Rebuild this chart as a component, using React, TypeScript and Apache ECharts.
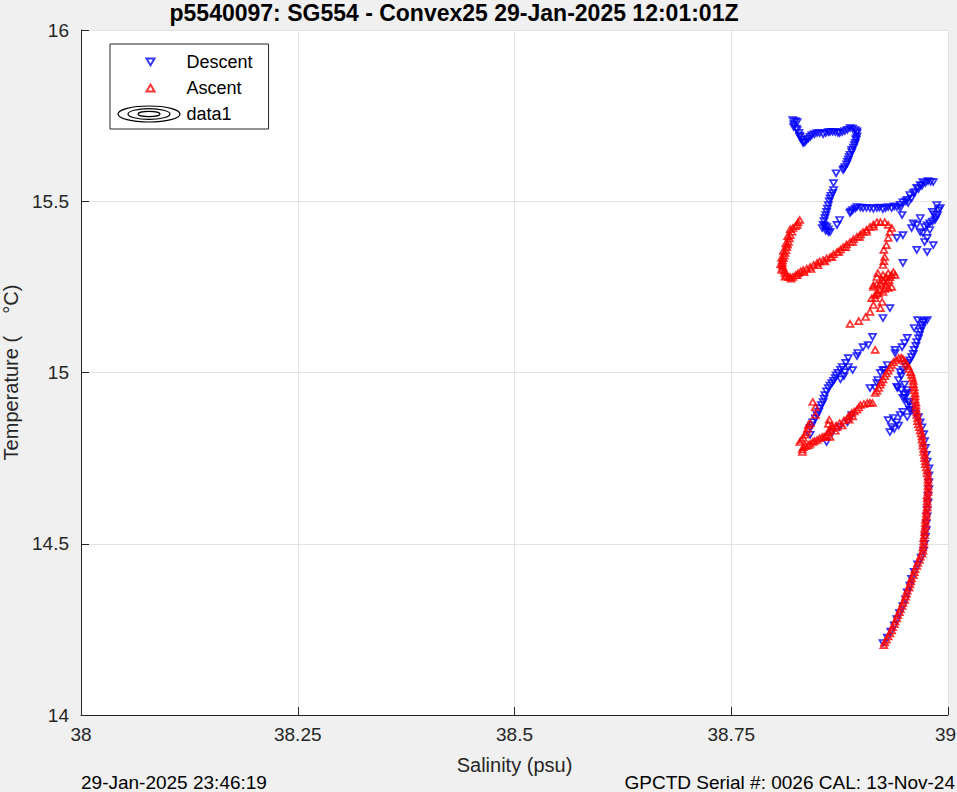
import React, { useEffect, useRef } from "react";
import * as echarts from "echarts";

// ---------- DATA (salinity psu, temperature °C) ----------
const xTicks = [38, 38.25, 38.5, 38.75, 39];
const yTicks = [14, 14.5, 15, 15.5, 16];

const descentSurface: number[][] = [
  [38.821,15.737],[38.824,15.734],[38.826,15.731],[38.822,15.725],[38.822,15.717],[38.825,15.712],[38.826,15.708],[38.828,15.700],
  [38.829,15.692],[38.829,15.688],[38.831,15.681],[38.833,15.674],[38.833,15.670],[38.835,15.672],[38.837,15.679],[38.839,15.683],
  [38.841,15.688],[38.843,15.693],[38.846,15.696],[38.849,15.699],[38.852,15.699],[38.856,15.696],[38.859,15.699],[38.862,15.702],
  [38.864,15.702],[38.867,15.703],[38.870,15.702],[38.873,15.700],[38.875,15.699],[38.878,15.702],[38.881,15.705],[38.884,15.709],
  [38.887,15.714],[38.890,15.712],[38.893,15.708],[38.895,15.704],[38.895,15.699],[38.895,15.690],[38.894,15.684],[38.894,15.679],
  [38.893,15.671],[38.892,15.664],[38.891,15.657],[38.889,15.650],[38.889,15.644],[38.887,15.636],[38.886,15.629],[38.885,15.622],
  [38.884,15.615],[38.883,15.608],[38.881,15.600],[38.880,15.595],[38.879,15.591],
  [38.871,15.582],[38.868,15.553],[38.868,15.533],
];

const descentUpper: number[][] = [
  [38.867,15.524],[38.865,15.516],[38.864,15.509],[38.863,15.500],[38.862,15.489],[38.861,15.479],[38.860,15.469],[38.859,15.460],
  [38.858,15.451],[38.857,15.442],[38.856,15.431],[38.855,15.422],[38.858,15.428],[38.860,15.425],[38.862,15.418],[38.862,15.410],
  [38.859,15.414],[38.875,15.445],[38.872,15.431],[38.864,15.410],
  [38.887,15.466],[38.888,15.470],[38.890,15.474],[38.893,15.479],[38.895,15.483],[38.899,15.482],[38.902,15.480],[38.906,15.481],
  [38.910,15.480],[38.914,15.478],[38.918,15.480],[38.921,15.482],[38.925,15.477],[38.928,15.480],[38.931,15.483],[38.935,15.480],
  [38.938,15.485],[38.941,15.483],[38.945,15.490],[38.948,15.497],[38.951,15.500],[38.953,15.504],[38.954,15.495],[38.956,15.518],
  [38.958,15.509],[38.960,15.524],[38.962,15.527],[38.964,15.539],[38.966,15.536],[38.968,15.547],[38.970,15.545],[38.971,15.556],
  [38.974,15.553],[38.977,15.559],[38.980,15.557],[38.983,15.556],
  [38.987,15.489],[38.991,15.480],[38.989,15.474],[38.988,15.460],[38.985,15.445],[38.982,15.469],[38.982,15.441],[38.979,15.436],
  [38.976,15.430],[38.973,15.425],[38.971,15.407],[38.976,15.393],[38.973,15.381],[38.983,15.372],[38.964,15.358],[38.976,15.352],
  [38.979,15.416],[38.968,15.410],[38.958,15.422],[38.960,15.436],[38.945,15.480],[38.947,15.460],[38.948,15.401],[38.941,15.393],
  [38.948,15.320],[38.968,15.451],[38.964,15.431],[38.984,15.462],[38.986,15.452],
];

const descentMiddle: number[][] = [
  [38.933,15.188],[38.925,15.159],[38.913,15.104],[38.908,15.080],[38.902,15.074],[38.896,15.057],[38.895,15.048],[38.885,15.042],
  [38.890,15.007],[38.882,15.028],
  [38.976,15.153],[38.973,15.150],[38.971,15.147],[38.965,15.153],[38.970,15.138],[38.970,15.130],[38.968,15.120],[38.967,15.110],
  [38.966,15.100],[38.964,15.089],[38.963,15.078],[38.961,15.066],[38.960,15.055],[38.958,15.045],[38.956,15.036],[38.954,15.028],
  [38.951,15.018],[38.948,15.008],[38.961,15.130],[38.953,15.101],[38.950,15.086],[38.947,15.074],[38.939,15.066],[38.939,15.057],
  [38.930,15.022],[38.925,15.007],[38.922,14.999],
  [38.945,15.001],[38.943,14.978],[38.942,14.955],[38.953,14.949],[38.948,14.926],[38.953,14.905],[38.956,14.891],[38.958,14.899],
  [38.948,14.885],[38.945,14.876],[38.941,14.855],[38.935,14.841],[38.933,14.826],[38.931,14.861],[38.937,14.867],[38.916,14.955],
  [38.910,14.955],[38.918,14.969],[38.919,14.978],[38.927,15.007],[38.953,14.870],[38.946,14.990],[38.950,14.965],[38.950,14.935],
  [38.955,14.915],[38.943,14.845],[38.938,14.835],[38.941,14.958],[38.946,14.949],[38.953,14.940],[38.950,14.926],[38.955,14.911],
];

const descentLower: number[][] = [
  [38.878,15.016],[38.876,15.008],[38.873,14.999],[38.871,14.992],[38.870,14.984],[38.868,14.976],[38.866,14.969],[38.864,14.962],
  [38.862,14.955],[38.860,14.945],[38.858,14.934],[38.857,14.924],[38.856,14.914],[38.854,14.905],[38.852,14.896],[38.851,14.886],
  [38.849,14.876],[38.847,14.866],[38.844,14.855],[38.843,14.846],[38.841,14.838],[38.841,14.818],[38.885,15.016],[38.881,15.001],
  [38.860,14.797],[38.866,14.823],[38.875,14.841],[38.884,14.855],[38.889,14.876],[38.880,14.990],[38.876,14.980],
];

const descentDeep: number[][] = [
  [38.925,14.210],[38.930,14.226],[38.934,14.244],[38.938,14.262],[38.941,14.280],[38.944,14.298],[38.948,14.318],[38.951,14.338],
  [38.953,14.358],[38.956,14.378],[38.958,14.398],[38.961,14.418],[38.965,14.440],[38.969,14.460],[38.972,14.480],[38.973,14.500],
  [38.974,14.520],[38.975,14.540],[38.975,14.560],[38.976,14.580],[38.976,14.600],[38.977,14.620],[38.977,14.640],[38.978,14.660],
  [38.978,14.680],[38.978,14.700],[38.978,14.720],[38.976,14.740],[38.975,14.760],[38.974,14.780],[38.973,14.800],[38.972,14.820],
  [38.970,14.840],[38.968,14.855],[38.966,14.870],[38.962,14.880],[38.958,14.890],
];

const ascentDeep: number[][] = [
  [38.926,14.204],[38.927,14.212],[38.929,14.220],[38.931,14.229],[38.933,14.238],[38.935,14.247],[38.936,14.256],[38.938,14.265],
  [38.939,14.273],[38.941,14.282],[38.942,14.291],[38.944,14.300],[38.945,14.309],[38.947,14.318],[38.948,14.327],[38.950,14.336],
  [38.951,14.345],[38.952,14.354],[38.953,14.363],[38.955,14.372],[38.956,14.381],[38.957,14.390],[38.958,14.399],[38.960,14.408],
  [38.961,14.417],[38.962,14.426],[38.964,14.435],[38.965,14.444],[38.967,14.453],[38.968,14.462],[38.970,14.471],[38.971,14.480],
  [38.971,14.489],[38.972,14.498],[38.972,14.507],[38.972,14.516],[38.973,14.525],[38.973,14.534],[38.973,14.543],[38.974,14.552],
  [38.974,14.561],[38.974,14.570],[38.975,14.579],[38.975,14.588],[38.975,14.597],[38.976,14.606],[38.976,14.615],[38.976,14.624],
  [38.976,14.633],[38.976,14.642],[38.977,14.651],[38.977,14.660],[38.977,14.669],[38.977,14.678],[38.977,14.687],[38.977,14.696],
  [38.976,14.705],[38.976,14.714],[38.975,14.723],[38.974,14.732],[38.974,14.741],[38.973,14.750],[38.973,14.759],[38.972,14.768],
  [38.972,14.777],[38.971,14.786],[38.971,14.795],[38.970,14.804],[38.970,14.813],[38.969,14.822],[38.968,14.831],[38.967,14.840],
  [38.966,14.849],[38.965,14.858],[38.965,14.867],[38.964,14.876],[38.964,14.885],[38.963,14.894],[38.963,14.903],[38.963,14.912],
  [38.962,14.921],[38.962,14.930],[38.962,14.939],[38.961,14.948],[38.961,14.957],[38.960,14.966],[38.960,14.975],[38.959,14.984],
  [38.958,14.993],[38.957,15.001],[38.955,15.010],[38.954,15.018],[38.952,15.026],[38.950,15.033],[38.948,15.040],[38.946,15.043],
  [38.943,15.042],[38.940,15.036],[38.937,15.030],[38.935,15.022],[38.933,15.014],[38.931,15.005],[38.929,14.997],[38.927,14.989],
  [38.925,14.980],[38.923,14.972],[38.922,14.964],[38.920,14.955],[38.918,14.946],[38.916,14.940],
];

const ascentLower: number[][] = [
  [38.913,14.911],[38.910,14.912],[38.907,14.911],[38.903,14.908],[38.899,14.905],[38.897,14.898],[38.895,14.891],[38.892,14.886],
  [38.889,14.882],[38.886,14.874],[38.884,14.867],[38.880,14.860],[38.875,14.852],[38.871,14.845],[38.867,14.838],[38.864,14.832],
  [38.862,14.826],[38.860,14.819],[38.860,14.812],[38.857,14.812],[38.855,14.812],[38.852,14.808],[38.849,14.803],[38.846,14.800],
  [38.844,14.797],[38.841,14.792],[38.839,14.788],[38.836,14.785],[38.833,14.782],[38.832,14.775],[38.832,14.768],[38.829,14.797],
  [38.831,14.803],[38.833,14.809],[38.835,14.818],[38.837,14.826],[38.838,14.836],[38.839,14.847],[38.841,14.852],[38.847,14.876],
  [38.844,14.914],[38.847,14.899],[38.872,14.841],[38.864,14.812],[38.862,14.850],[38.863,14.862],[38.866,14.845],[38.870,14.830],
  [38.878,14.845],[38.886,14.862],[38.890,14.872],
];

const ascentMiddle: number[][] = [
  [38.916,15.066],[38.887,15.142],[38.897,15.150],[38.905,15.162],[38.910,15.177],[38.922,15.188],[38.914,15.197],[38.924,15.206],
  [38.916,15.217],[38.912,15.217],[38.916,15.226],[38.920,15.230],[38.918,15.232],[38.925,15.235],[38.921,15.240],[38.927,15.244],
  [38.931,15.247],[38.935,15.250],[38.914,15.250],[38.914,15.255],[38.928,15.255],[38.918,15.258],[38.922,15.261],[38.930,15.264],
  [38.926,15.267],[38.924,15.270],[38.932,15.270],[38.929,15.278],[38.918,15.279],[38.933,15.278],[38.925,15.285],[38.935,15.285],
  [38.939,15.285],[38.931,15.290],[38.919,15.290],[38.937,15.293],[38.925,15.314],[38.926,15.325],[38.927,15.337],[38.926,15.358],
  [38.929,15.372],[38.931,15.393],[38.933,15.410],[38.935,15.422],[38.931,15.431],[38.927,15.439],[38.922,15.439],
];

const ascentSurface: number[][] = [
  [38.918,15.439],[38.914,15.432],[38.910,15.425],[38.906,15.417],[38.902,15.410],[38.899,15.403],[38.895,15.396],[38.891,15.389],
  [38.887,15.381],[38.883,15.374],[38.879,15.366],[38.876,15.359],[38.872,15.352],[38.868,15.345],[38.864,15.337],[38.860,15.333],
  [38.856,15.328],[38.852,15.324],[38.849,15.320],[38.845,15.314],[38.841,15.308],[38.837,15.303],[38.833,15.299],[38.830,15.295],
  [38.827,15.290],[38.824,15.284],[38.821,15.279],[38.818,15.279],[38.816,15.279],[38.814,15.284],[38.812,15.290],[38.811,15.297],
  [38.810,15.305],[38.809,15.312],[38.809,15.320],[38.809,15.327],[38.810,15.334],[38.811,15.341],[38.812,15.349],[38.813,15.357],
  [38.814,15.366],[38.815,15.373],[38.816,15.381],[38.817,15.391],[38.818,15.401],[38.820,15.411],[38.821,15.422],[38.824,15.427],
  [38.826,15.431],[38.827,15.439],[38.829,15.445],
  [38.914,15.426],[38.906,15.411],[38.898,15.396],[38.890,15.381],[38.882,15.366],[38.874,15.352],[38.866,15.337],[38.858,15.324],
  [38.850,15.313],[38.842,15.302],[38.834,15.293],[38.826,15.284],[38.819,15.274],[38.812,15.280],[38.808,15.300],[38.807,15.316],
  [38.808,15.335],[38.810,15.355],[38.813,15.377],[38.815,15.398],[38.818,15.418],
];

const TITLE = "p5540097: SG554 - Convex25 29-Jan-2025 12:01:01Z";
const X_NAME = "Salinity (psu)";
const Y_NAME = "Temperature (    °C)";
const FOOT_LEFT = "29-Jan-2025 23:46:19";
const FOOT_RIGHT = "GPCTD Serial #: 0026 CAL: 13-Nov-24";

const FONT = '"Liberation Sans", Arial, Helvetica, sans-serif';
const AXIS_COLOR = "#262626";
const DOWN_TRI = "path://M0,0L10,0L5,8.5Z";
const UP_TRI = "path://M5,0L10,8.5L0,8.5Z";

export default function App() {
  const ref = useRef<HTMLDivElement>(null);
  useEffect(() => {
    if (!ref.current) return;
    const chart = echarts.init(ref.current, undefined, { renderer: "svg" });
    const descent = [...descentSurface, ...descentUpper, ...descentMiddle, ...descentLower, ...descentDeep];
    const ascent = [...ascentDeep, ...ascentLower, ...ascentMiddle, ...ascentSurface];
    const xMax = xTicks[xTicks.length - 1];
    chart.setOption({
      animation: false,
      backgroundColor: "#f0f0f0",
      textStyle: { fontFamily: FONT },
      title: [
        {
          text: TITLE, left: 454, top: 1, textAlign: "center", padding: 0,
          textStyle: { fontFamily: FONT, fontSize: 23, fontWeight: "bold", color: "#000" },
        },
        {
          text: FOOT_LEFT, left: 81, top: 773, padding: 0,
          textStyle: { fontFamily: FONT, fontSize: 19, fontWeight: "normal", color: "#000" },
        },
        {
          text: FOOT_RIGHT, right: 2, top: 773, padding: 0,
          textStyle: { fontFamily: FONT, fontSize: 19, fontWeight: "normal", color: "#000" },
        },
      ],
      grid: {
        left: 81, top: 30, right: 9, bottom: 77, show: true, backgroundColor: "#ffffff", borderWidth: 0,
        containLabel: false, outerBoundsMode: "none",
      },
      xAxis: {
        type: "value", min: xTicks[0], max: xMax, interval: 0.25,
        name: X_NAME, nameLocation: "middle", nameGap: 40,
        nameTextStyle: { fontFamily: FONT, fontSize: 20, color: AXIS_COLOR },
        axisLine: { show: true, onZero: false, lineStyle: { color: AXIS_COLOR, width: 1 } },
        axisTick: { show: true, inside: true, length: 8, lineStyle: { color: AXIS_COLOR } },
        axisLabel: {
          margin: 10, fontFamily: FONT, fontSize: 19, color: AXIS_COLOR,
          formatter: (v: number) => (v === xMax ? "{m|" + v + "}" : String(v)),
          rich: { m: { fontFamily: FONT, fontSize: 19, color: AXIS_COLOR, padding: [0, 5, 0, 0] } },
        },
        splitLine: { show: true, lineStyle: { color: "#e3e3e3", width: 1 } },
      },
      yAxis: {
        type: "value", min: yTicks[0], max: yTicks[yTicks.length - 1], interval: 0.5,
        name: Y_NAME, nameLocation: "middle", nameGap: 60,
        nameTextStyle: { fontFamily: FONT, fontSize: 20, color: AXIS_COLOR },
        axisLine: { show: true, onZero: false, lineStyle: { color: AXIS_COLOR, width: 1 } },
        axisTick: { show: true, inside: true, length: 8, lineStyle: { color: AXIS_COLOR } },
        axisLabel: { margin: 12, fontFamily: FONT, fontSize: 19, color: AXIS_COLOR },
        splitLine: { show: true, lineStyle: { color: "#e3e3e3", width: 1 } },
      },
      legend: {
        orient: "vertical", left: 110, top: 44,
        padding: [9, 16, 6, 34], itemWidth: 8, itemHeight: 7, itemGap: 8,
        backgroundColor: "#ffffff", borderColor: AXIS_COLOR, borderWidth: 1,
        textStyle: { fontFamily: FONT, fontSize: 18, color: "#000", padding: [0, 0, 0, 27] },
        data: [
          { name: "Descent", icon: DOWN_TRI },
          { name: "Ascent", icon: UP_TRI },
          { name: "data1", icon: "rect", itemStyle: { color: "rgba(0,0,0,0)", borderWidth: 0 } },
        ],
      },
      graphic: [
        { type: "ellipse", z: 100, shape: { cx: 149, cy: 114, rx: 31, ry: 8 }, style: { fill: "none", stroke: "#000", lineWidth: 1.2 } },
        { type: "ellipse", z: 100, shape: { cx: 149, cy: 114, rx: 21, ry: 5.3 }, style: { fill: "none", stroke: "#000", lineWidth: 1.2 } },
        { type: "ellipse", z: 100, shape: { cx: 149, cy: 114, rx: 11, ry: 2.7 }, style: { fill: "none", stroke: "#000", lineWidth: 1.2 } },
      ],
      series: [
        {
          name: "Descent", type: "scatter", symbol: DOWN_TRI, symbolSize: [7, 6],
          itemStyle: { color: "none", borderColor: "#0000ff", borderWidth: 1.7 },
          data: descent,
        },
        {
          name: "Ascent", type: "scatter", symbol: UP_TRI, symbolSize: [7, 6],
          itemStyle: { color: "none", borderColor: "#ff0000", borderWidth: 1.7 },
          data: ascent,
        },
        { name: "data1", type: "scatter", data: [], itemStyle: { color: "rgba(0,0,0,0)" } },
      ],
    });
    return () => chart.dispose();
  }, []);
  return <div ref={ref} style={{ position: "fixed", left: 0, top: 0, width: 957, height: 792 }} />;
}
